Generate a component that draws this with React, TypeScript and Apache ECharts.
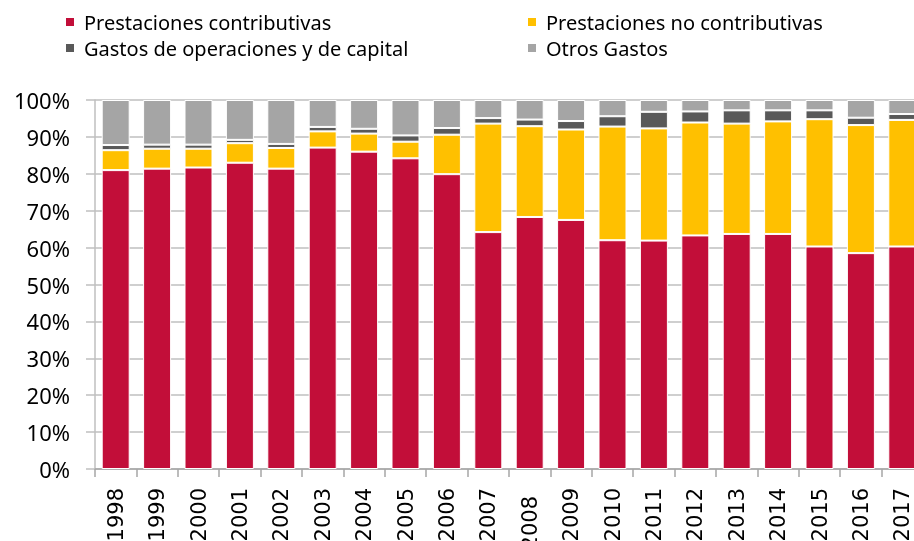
import React, { useEffect, useRef } from "react";
import * as echarts from "echarts";

const years = ["1998","1999","2000","2001","2002","2003","2004","2005","2006","2007","2008","2009","2010","2011","2012","2013","2014","2015","2016","2017"];
const contributivas = [81.0,81.4,81.7,83.0,81.4,87.1,86.0,84.2,79.9,64.2,68.3,67.5,62.0,61.9,63.3,63.7,63.7,60.3,58.5,60.3];
const noContributivas = [5.4,5.4,5.1,5.3,5.6,4.4,4.9,4.5,10.7,29.4,24.6,24.5,30.8,30.4,30.6,29.9,30.5,34.5,34.7,34.3];
const operaciones = [1.4,1.1,1.1,0.9,1.1,1.2,1.3,1.7,1.8,1.5,1.8,2.3,2.8,4.5,3.0,3.6,3.0,2.4,2.0,1.6];
const otros = [12.2,12.1,12.1,10.8,11.9,7.3,7.8,9.6,7.6,4.9,5.3,5.7,4.4,3.2,3.1,2.8,2.8,2.8,4.8,3.8];
const yTicks = [0,10,20,30,40,50,60,70,80,90,100];

const names = ["Prestaciones contributivas","Prestaciones no contributivas","Gastos de operaciones y de capital","Otros Gastos"];
const colors = ["#C20E39","#FFC000","#595959","#A5A5A5"];

export default function App() {
  const ref = useRef<HTMLDivElement>(null);
  useEffect(() => {
    if (!ref.current) return;
    const chart = echarts.init(ref.current, null, { renderer: "svg" });
    const seriesData = [contributivas, noContributivas, operaciones, otros];
    const legendPos = [
      { left: 64, top: 12 },
      { left: 526, top: 12 },
      { left: 64, top: 38 },
      { left: 526, top: 38 },
    ];
    chart.setOption({
      animation: false,
      color: colors,
      legend: names.map((n, i) => ({
        data: [n],
        left: legendPos[i].left,
        top: legendPos[i].top,
        padding: 0,
        icon: "rect",
        itemWidth: 10,
        itemHeight: 10,
        selectedMode: false,
        textStyle: { fontFamily: "Noto Sans", fontSize: 20, color: "#000", lineHeight: 20, padding: [0, 0, 0, 4] },
      })),
      grid: { left: 95, top: 100, width: 828, height: 369, containLabel: false, outerBoundsMode: "none" },
      xAxis: {
        type: "category",
        data: years.map((y) => (y === "2008" ? { value: y, textStyle: { padding: [0, 8, 0, 0] } } : y)),
        axisLine: { lineStyle: { color: "#A6A6A6", width: 1.5 } },
        axisTick: { show: true, length: 8, lineStyle: { color: "#A6A6A6", width: 1.5 } },
        axisLabel: { rotate: 90, margin: 19, fontFamily: "DejaVu Sans", fontSize: 21, color: "#000" },
      },
      yAxis: {
        type: "value",
        min: 0,
        max: 100,
        interval: 10,
        axisLine: { show: true, lineStyle: { color: "#BFBFBF", width: 1.5 } },
        axisTick: { show: true, length: 9, lineStyle: { color: "#BFBFBF", width: 1.5 } },
        splitLine: { show: true, lineStyle: { color: "#BFBFBF", width: 1.5 } },
        axisLabel: {
          margin: 25,
          fontFamily: "Noto Sans",
          fontSize: 22,
          color: "#000",
          formatter: (v: number) => (yTicks.includes(v) ? v + "%" : ""),
        },
      },
      series: names.map((n, i) => ({
        name: n,
        type: "bar",
        stack: "total",
        barWidth: 28,
        data: seriesData[i],
        itemStyle: { color: colors[i], borderColor: "#FFFFFF", borderWidth: 1 },
      })),
    });
    return () => chart.dispose();
  }, []);
  return <div ref={ref} style={{ position: "fixed", left: 0, top: 0, width: 914, height: 541 }} />;
}
